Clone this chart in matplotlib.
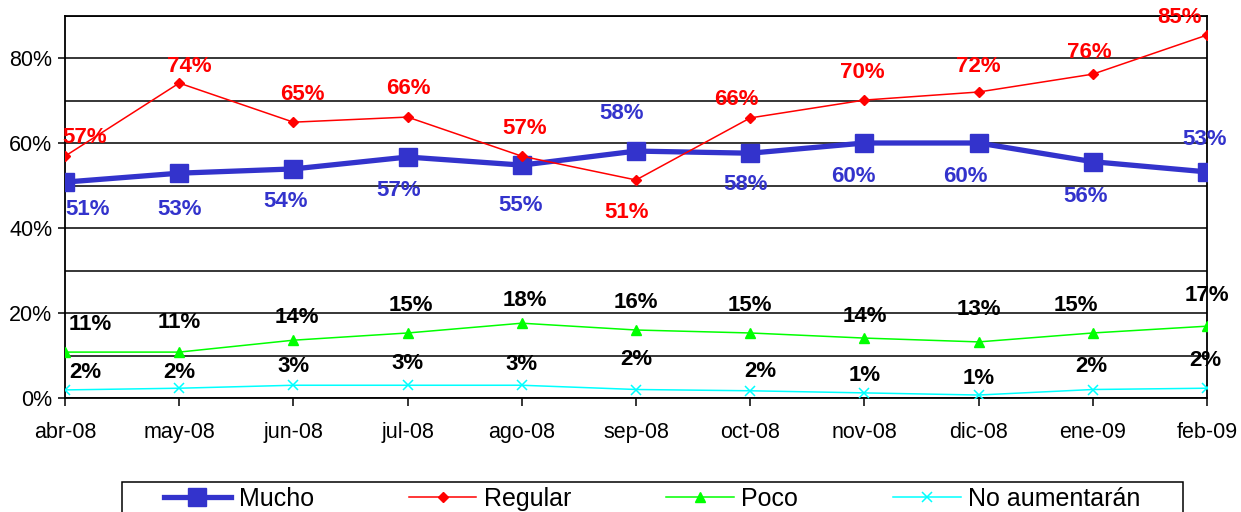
import matplotlib.pyplot as plt
from matplotlib.patches import Rectangle
from matplotlib.ticker import MultipleLocator, PercentFormatter

plt.rcParams['font.family'] = ['Liberation Sans', 'DejaVu Sans']

meses = ['abr-08', 'may-08', 'jun-08', 'jul-08', 'ago-08', 'sep-08',
         'oct-08', 'nov-08', 'dic-08', 'ene-09', 'feb-09']
mucho = [50.8, 52.9, 53.9, 56.7, 54.8, 58.1, 57.6, 60.0, 60.0, 55.6, 53.2]
regular = [56.9, 74.1, 64.9, 66.1, 56.9, 51.3, 65.9, 70.1, 72.0, 76.2, 85.4]
poco = [10.8, 10.8, 13.6, 15.3, 17.6, 16.0, 15.3, 14.1, 13.2, 15.3, 16.9]
no_aum = [1.9, 2.3, 3.0, 3.0, 3.0, 2.0, 1.7, 1.2, 0.7, 2.0, 2.3]

# label offsets in pixels (dx, dy)
off_mucho = [(23, -27), (0, -36), (-8, -33), (-9, -33), (-1, -40), (-14, 38),
             (-5, -31), (-11, -34), (-13, -34), (-7, -35), (-2, 32)]
off_regular = [(20, 19), (10, 17), (9, 28), (1, 29), (3, 28), (-9, -33),
               (-14, 18), (-2, 28), (0, 26), (-3, 22), (-27, 18)]
off_poco = [(25, 28), (0, 30), (3, 23), (3, 27), (3, 23), (0, 27),
            (0, 27), (0, 22), (0, 32), (-17, 27), (0, 31)]
off_noaum = [(20, 17), (0, 16), (0, 19), (0, 22), (0, 21), (0, 30),
             (10, 19), (0, 17), (0, 17), (-1, 23), (-2, 28)]

azul = '#3333CC'
fig = plt.figure(figsize=(12.41, 5.12), dpi=100)
ax = fig.add_axes([65 / 1241, 1 - 398 / 512, 1142 / 1241, 382.5 / 512])

x = list(range(len(meses)))
ax.plot(x, mucho, color=azul, lw=3.8, marker='s', ms=13, label='Mucho', zorder=5)
ax.plot(x, regular, color='red', lw=1.1, marker='D', ms=5.5, label='Regular', zorder=6)
ax.plot(x, poco, color='#00FF00', lw=1.1, marker='^', ms=7, label='Poco', zorder=4)
ax.plot(x, no_aum, color='#00FFFF', lw=1.1, marker='x', ms=7, mew=1.1,
        label='No aumentarán', zorder=4)

series = [(mucho, off_mucho, azul), (regular, off_regular, 'red'),
          (poco, off_poco, 'black'), (no_aum, off_noaum, 'black')]
for vals, offs, col in series:
    for i, v in enumerate(vals):
        ax.annotate(f'{round(v)}%', (i, v), xytext=offs[i], textcoords='offset pixels',
                    ha='center', va='center', fontsize=16, fontweight='bold',
                    color=col, annotation_clip=False, zorder=7)

ax.set_xlim(0, 10)
ax.set_ylim(0, 90)
ax.set_xticks(x)
ax.set_xticklabels(meses)
ax.yaxis.set_major_locator(MultipleLocator(20))
ax.yaxis.set_minor_locator(MultipleLocator(10))
ax.yaxis.set_major_formatter(PercentFormatter(decimals=0))
ax.grid(axis='y', which='both', color='black', lw=1.1, zorder=1)
ax.tick_params(axis='y', which='major', labelsize=15.5, length=5, width=1.1, pad=4, direction='out')
ax.tick_params(axis='y', which='minor', length=0)
ax.tick_params(axis='x', labelsize=15.5, length=6, width=1.1, pad=11, direction='out')
for s in ax.spines.values():
    s.set_linewidth(1.3)
    s.set_color('black')

# legend box runs past the bottom edge, as in the original
fig.patches.append(Rectangle((122 / 1241, -0.1), (1183 - 122) / 1241, 0.1 + 1 - 482 / 512,
                             transform=fig.transFigure, fill=False, edgecolor='black', lw=1.1))
leg = fig.legend(loc='center', bbox_to_anchor=(652 / 1241, 1 - 499 / 512), ncol=4,
                 fontsize=18, frameon=False,
                 handlelength=2.7, handletextpad=0.3, columnspacing=3.8, borderpad=0.2)

fig.savefig('out.png', dpi=100)
